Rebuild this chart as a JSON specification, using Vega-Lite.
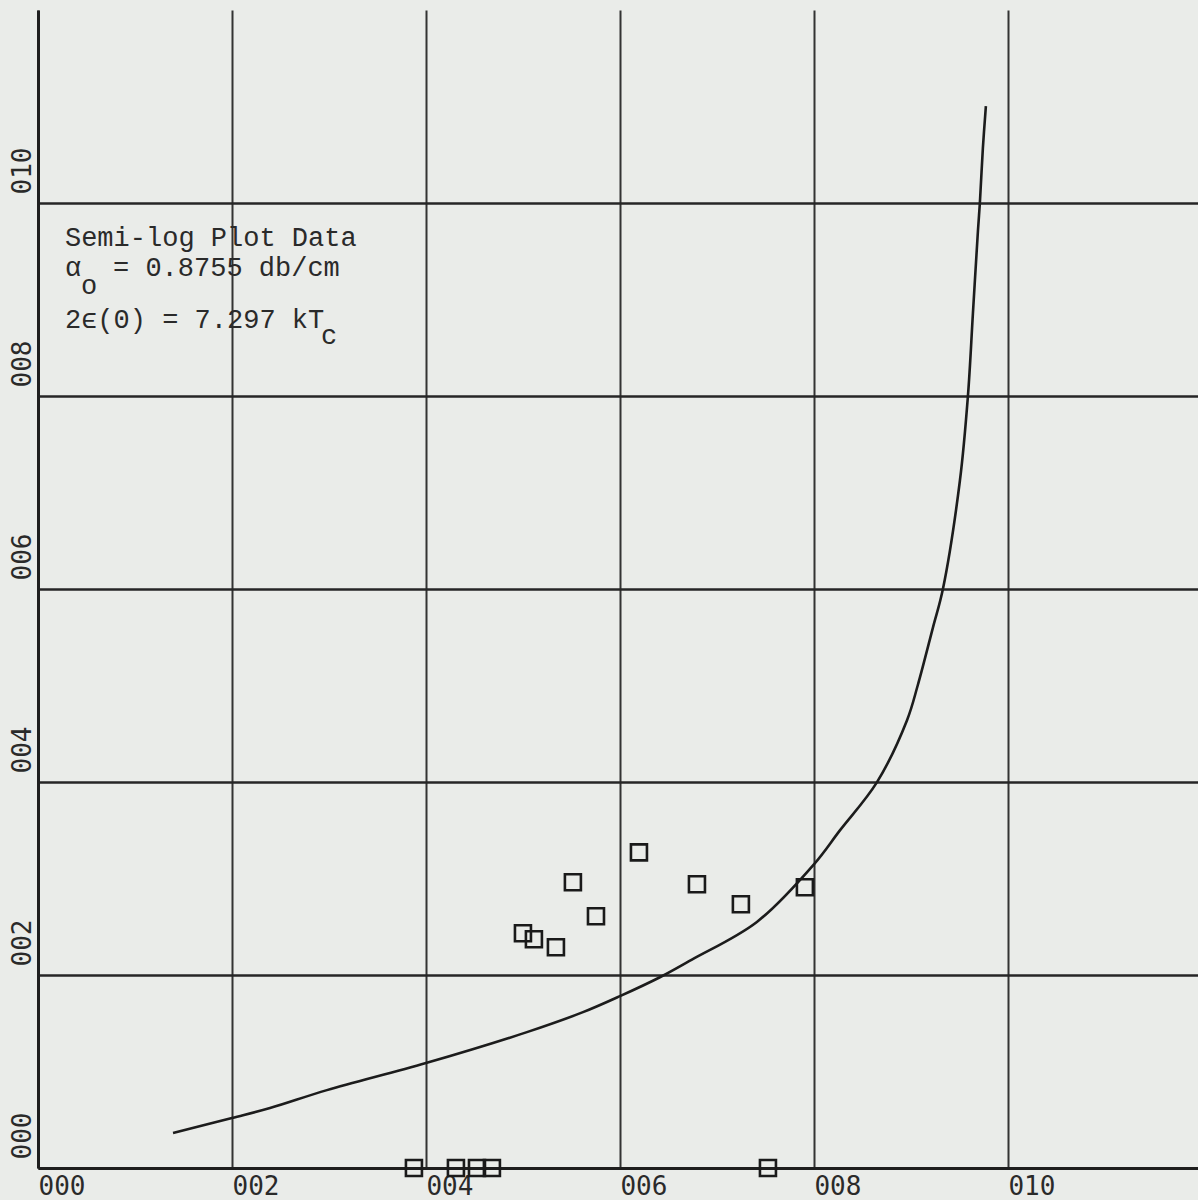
{
  "$schema": "https://vega.github.io/schema/vega-lite/v6.json",
  "autosize": {"type": "none"},
  "padding": {"left": 38, "top": 10, "right": 0, "bottom": 32},
  "width": 1160,
  "height": 1158,
  "background": "#eaece9",
  "config": {
    "view": {"stroke": null},
    "axis": {"ticks": false, "domainColor": "#1e1e1e", "domainWidth": 3, "labelColor": "#2a2a2a", "labelFont": "DejaVu Sans Mono", "labelFontSize": 26, "title": null}
  },
  "datasets": {
    "curve": [
      {"x": 1.392, "y": 0.362}, {"x": 2.0, "y": 0.518}, {"x": 2.392, "y": 0.621}, {"x": 2.979, "y": 0.807},
      {"x": 4.0, "y": 1.087}, {"x": 5.041, "y": 1.408}, {"x": 5.619, "y": 1.615}, {"x": 6.0, "y": 1.781},
      {"x": 6.412, "y": 1.977}, {"x": 6.742, "y": 2.16}, {"x": 7.412, "y": 2.55}, {"x": 8.0, "y": 3.147},
      {"x": 8.268, "y": 3.499}, {"x": 8.649, "y": 3.996}, {"x": 8.959, "y": 4.638}, {"x": 9.07, "y": 5.0},
      {"x": 9.227, "y": 5.6}, {"x": 9.33, "y": 6.0}, {"x": 9.505, "y": 7.122},
      {"x": 9.588, "y": 8.002}, {"x": 9.639, "y": 8.851}, {"x": 9.691, "y": 9.71}, {"x": 9.711, "y": 10.0},
      {"x": 9.742, "y": 10.569}, {"x": 9.773, "y": 11.004}
    ],
    "points": [
      {"x": 5.0, "y": 2.433}, {"x": 5.113, "y": 2.371}, {"x": 5.34, "y": 2.288}, {"x": 5.515, "y": 2.961},
      {"x": 5.753, "y": 2.609}, {"x": 6.196, "y": 3.271}, {"x": 6.794, "y": 2.94}, {"x": 7.247, "y": 2.733},
      {"x": 7.907, "y": 2.909}, {"x": 3.876, "y": 0}, {"x": 4.309, "y": 0}, {"x": 4.526, "y": 0},
      {"x": 4.68, "y": 0}, {"x": 7.526, "y": 0}
    ],
    "notes": [
      {"t": "Semi-log Plot Data", "x": 0.278, "y": 9.555},
      {"t": "α", "x": 0.278, "y": 9.244},
      {"t": "= 0.8755 db/cm", "x": 0.773, "y": 9.244},
      {"t": "o", "x": 0.443, "y": 9.058},
      {"t": "2ϵ(0) = 7.297 kT", "x": 0.278, "y": 8.706},
      {"t": "c", "x": 2.918, "y": 8.54}
    ]
  },
  "encoding": {
    "x": {"field": "x", "type": "quantitative", "scale": {"domain": [0, 11.96], "nice": false, "zero": false},
      "axis": {"values": [0, 2, 4, 6, 8, 10], "format": "03d", "labelAlign": "left", "labelBaseline": "top", "labelPadding": 5, "labelFlush": false, "grid": true, "gridColor": "#333333", "gridWidth": 2}},
    "y": {"field": "y", "type": "quantitative", "scale": {"domain": [0, 12], "nice": false, "zero": false},
      "axis": {"values": [0, 2, 4, 6, 8, 10], "format": "03d", "labelAngle": 270, "labelAlign": "left", "labelBaseline": "bottom", "labelPadding": 3, "labelOffset": -9, "labelFlush": false, "grid": true, "gridColor": "#262626", "gridWidth": 2.6}}
  },
  "layer": [
    {"data": {"name": "curve"}, "mark": {"type": "line", "color": "#1c1c1c", "strokeWidth": 2.6, "interpolate": "catmull-rom"}},
    {"data": {"name": "points"}, "mark": {"type": "point", "shape": "square", "filled": false, "size": 256, "stroke": "#1a1a1a", "strokeWidth": 2.6, "opacity": 1}},
    {"data": {"name": "notes"}, "mark": {"type": "text", "align": "left", "baseline": "alphabetic", "font": "Liberation Mono", "fontSize": 27, "color": "#2a2a2a"},
      "encoding": {"text": {"field": "t", "type": "nominal"}}}
  ]
}
